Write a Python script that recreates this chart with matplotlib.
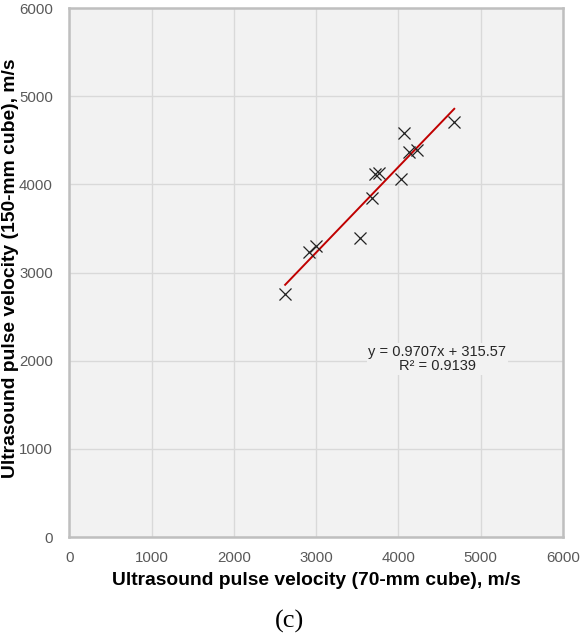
import numpy as np
import matplotlib.pyplot as plt

# Ultrasound pulse velocity readings, m/s
upv_70mm = [2622, 2917, 2995, 3526, 3680, 3717, 3757, 4025, 4070, 4122, 4224, 4678]
upv_150mm = [2752, 3228, 3299, 3387, 3847, 4112, 4123, 4055, 4577, 4369, 4388, 4705]

# Linear fit as reported on the chart
slope = 0.9707
intercept = 315.57
r_squared = 0.9139

ticks = [0, 1000, 2000, 3000, 4000, 5000, 6000]

plt.rcParams['font.family'] = ['Liberation Sans', 'DejaVu Sans']

fig = plt.figure(figsize=(5.81, 6.4), dpi=100)
ax = fig.add_axes([0.1196, 0.1609, 0.8494, 0.8266])
ax.set_facecolor('#f2f2f2')

ax.scatter(upv_70mm, upv_150mm, marker='x', s=75, color='#222222',
           linewidths=0.9, zorder=3)

xfit = np.array([min(upv_70mm), max(upv_70mm)])
ax.plot(xfit, slope * xfit + intercept, color='#c00000', lw=1.4, zorder=2)

ax.text(4470, 2020, f"y = {slope}x + {intercept}\nR\u00b2 = {r_squared}",
        ha='center', va='center', fontsize=10.5, color='#262626',
        linespacing=1.05, zorder=4,
        bbox=dict(facecolor='#f2f2f2', edgecolor='none', pad=1))

ax.set_xlim(0, 6000)
ax.set_ylim(0, 6000)
ax.set_xticks(ticks)
ax.set_yticks(ticks)
ax.grid(color='#d9d9d9', lw=1)
ax.set_axisbelow(True)
ax.tick_params(length=0, labelsize=10.8, labelcolor='#595959')
ax.tick_params(axis='y', pad=12)
ax.tick_params(axis='x', pad=10)
for s in ax.spines.values():
    s.set_color('#bfbfbf')
    s.set_linewidth(1.8)

ax.set_xlabel('Ultrasound pulse velocity (70-mm cube), m/s', fontsize=13.9,
              fontweight='bold', labelpad=5)
ax.set_ylabel('Ultrasound pulse velocity (150-mm cube), m/s', fontsize=13.9,
              fontweight='bold', va='center')
ax.yaxis.set_label_coords(-0.12, 0.509)

fig.text(0.498, 0.029, '(c)', ha='center', va='center', fontsize=19,
         family=['Liberation Serif', 'DejaVu Serif'])

plt.savefig('out.png', dpi=100)
